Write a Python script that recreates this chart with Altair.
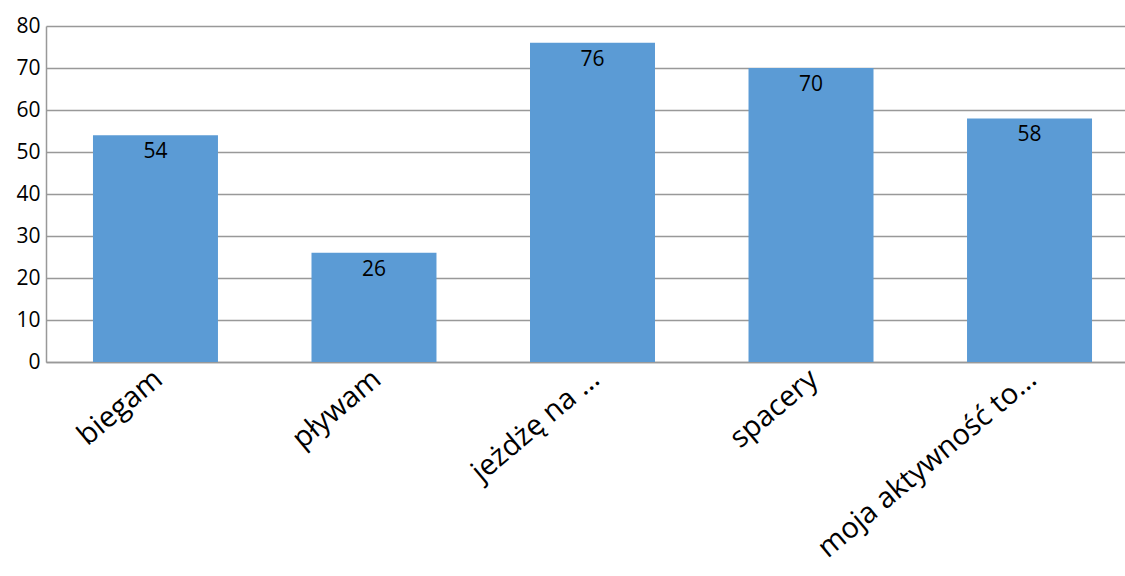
import altair as alt
import pandas as pd

categories = ["biegam", "pływam", "jeżdżę na …", "spacery", "moja aktywność to…"]
values = [54, 26, 76, 70, 58]

df = pd.DataFrame({"cat": categories, "val": values})

FONT = "Open Sans"

base = alt.Chart(df).encode(
    x=alt.X("cat:N", sort=categories,
            scale=alt.Scale(paddingInner=0.428, paddingOuter=0.215, range=[0, 1093]),
            axis=alt.Axis(title=None, labelAngle=-40, labelAlign="right",
                          labelBaseline="top", labelFontSize=29, labelFont=FONT,
                          labelColor="#000000", ticks=False, domainColor="#999999",
                          domainWidth=1.5, labelPadding=2, labelOffset=-6, labelLimit=500)),
    y=alt.Y("val:Q", scale=alt.Scale(domain=[0, 80]),
            axis=alt.Axis(title=None, values=list(range(0, 81, 10)), labelFontSize=21,
                          labelFont=FONT, labelColor="#000000", ticks=False,
                          domainColor="#999999", domainWidth=1.5, gridColor="#999999",
                          gridWidth=1.5, labelPadding=6)),
)

bars = base.mark_bar(color="#5B9BD5")
labels = base.mark_text(baseline="middle", dy=17, fontSize=21, font=FONT, color="#000000").encode(
    text="val:Q")

chart = (bars + labels).properties(
    width=1079, height=336,
    autosize=alt.AutoSizeParams(type="none"),
    padding={"left": 46, "top": 26, "right": 0, "bottom": 214},
).configure_view(stroke=None)

chart.save("out.html", embed_options={"renderer": "svg", "actions": False})
